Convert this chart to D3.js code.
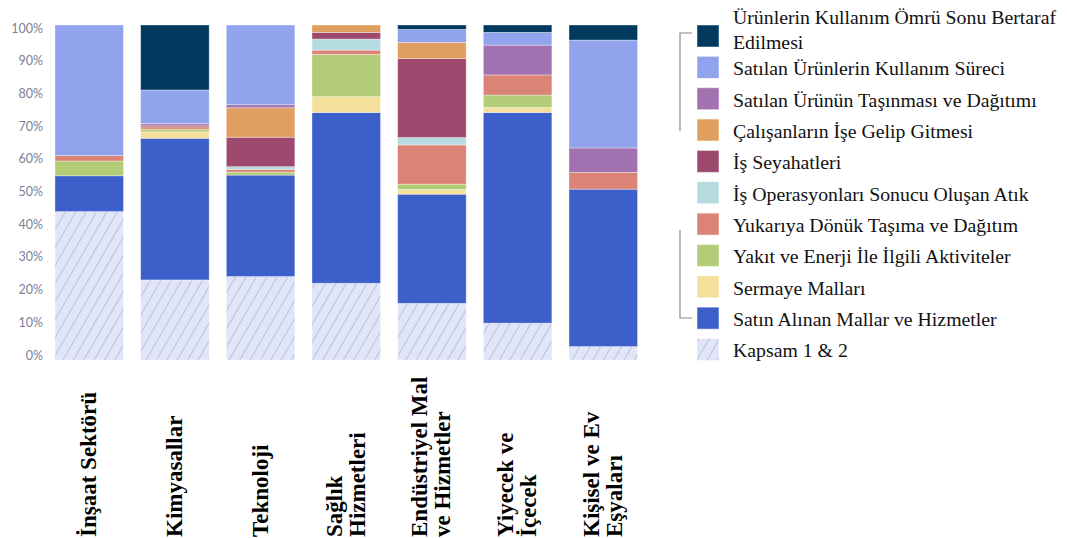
<!DOCTYPE html>
<html><head><meta charset="utf-8">
<script src="https://cdn.jsdelivr.net/npm/d3@7/dist/d3.min.js"></script>
<style>html,body{margin:0;padding:0;background:#fff;}svg{display:block;}</style>
</head><body>
<svg id="chart" width="1067" height="538"></svg>
<script>
// ---- data ----
const categories = ["İnşaat Sektörü","Kimyasallar","Teknoloji","Sağlık Hizmetleri","Endüstriyel Mal ve Hizmetler","Yiyecek ve İçecek","Kişisel ve Ev Eşyaları"];
const categoryLines = [["İnşaat Sektörü"],["Kimyasallar"],["Teknoloji"],["Sağlık","Hizmetleri"],["Endüstriyel Mal","ve Hizmetler"],["Yiyecek ve","İçecek"],["Kişisel ve Ev","Eşyaları"]];
// series listed bottom -> top of stack
const seriesNames = ["Kapsam 1 & 2","Satın Alınan Mallar ve Hizmetler","Sermaye Malları","Yakıt ve Enerji İle İlgili Aktiviteler","Yukarıya Dönük Taşıma ve Dağıtım","İş Operasyonları Sonucu Oluşan Atık","İş Seyahatleri","Çalışanların İşe Gelip Gitmesi","Satılan Ürünün Taşınması ve Dağıtımı","Satılan Ürünlerin Kullanım Süreci","Ürünlerin Kullanım Ömrü Sonu Bertaraf Edilmesi"];
const kapsam      = [44.3, 23.9, 24.9, 22.9, 16.9, 11.0, 4.0];
const satinAlinan = [10.7, 42.3, 30.3, 51.0, 32.6, 62.9, 47.0];
const sermaye     = [0, 1.9, 0, 4.7, 1.4, 1.5, 0];
const yakit       = [4.4, 0.8, 0.9, 12.6, 1.6, 3.7, 0];
const yukariya    = [1.6, 0.7, 0.8, 1.3, 11.7, 6.0, 5.0];
const atik        = [0, 0, 0.8, 3.3, 2.2, 0, 0];
const isSeyahat   = [0, 0.5, 8.8, 2.0, 23.6, 0, 0];
const calisanlar  = [0, 0, 8.8, 2.2, 4.8, 0, 0];
const tasinmasi   = [0, 0.5, 0.9, 0, 0, 8.9, 7.3];
const kullanim    = [39.0, 10.0, 23.8, 0, 3.9, 3.8, 32.2];
const omurSonu    = [0, 19.4, 0, 0, 1.3, 2.2, 4.5];
const seriesValues = [kapsam, satinAlinan, sermaye, yakit, yukariya, atik, isSeyahat, calisanlar, tasinmasi, kullanim, omurSonu];
const seriesColors = ["url(#hatch)","#3d5fc9","#f5e09b","#b2cc77","#db8374","#b4dbe0","#9e4a6f","#e09f5f","#a171b0","#90a3ec","#013a5e"];
const yTicks = [0,10,20,30,40,50,60,70,80,90,100];

// ---- scales ----
const svg = d3.select("#chart");
const defs = svg.append("defs");
const pat = defs.append("pattern").attr("id","hatch").attr("patternUnits","userSpaceOnUse")
  .attr("width",9).attr("height",9).attr("patternTransform","rotate(30)");
pat.append("rect").attr("width",9).attr("height",9).attr("fill","#e0e5f8");
pat.append("line").attr("x1",0).attr("y1",0).attr("x2",0).attr("y2",9).attr("stroke","#a2a7c2").attr("stroke-width",1.2);

const x = d3.scaleBand().domain(categories).range([46.4, 646.1]).paddingInner(0.2).paddingOuter(0.1);
const y = d3.scaleLinear().domain([0,100]).range([360, 25]);
const yLab = d3.scaleLinear().domain([0,100]).range([355, 28]);

// stack
const rows = categories.map((c,i)=>{const o={cat:c}; seriesNames.forEach((s,j)=>o[s]=seriesValues[j][i]); return o;});
const stacked = d3.stack().keys(seriesNames)(rows);

const g = svg.append("g");
stacked.forEach((layer, j) => {
  g.selectAll(null).data(layer.filter(d=>d[1]-d[0]>0)).enter().append("rect")
    .attr("x", d=>x(d.data.cat)).attr("width", x.bandwidth())
    .attr("y", d=>y(d[1])).attr("height", d=>y(d[0])-y(d[1]))
    .attr("fill", seriesColors[j])
    .attr("stroke","rgba(255,255,255,0.45)").attr("stroke-width",0.8);
});

// y axis labels
const ax = svg.append("g").attr("transform","translate(43,0)")
  .call(d3.axisLeft(yLab).tickValues(yTicks).tickFormat(d=>d+"%").tickSize(0).tickPadding(0));
ax.select(".domain").remove();
ax.selectAll("text").attr("font-family","Lato, 'Open Sans', sans-serif").attr("font-size",12.5).attr("fill","#7b7f96");

// x labels (rotated, bold serif)
const lineGap = 23;
categories.forEach((c,i)=>{
  const lines = categoryLines[i];
  const cx = x(c) + x.bandwidth()/2 - 1;
  lines.forEach((ln,k)=>{
    const off = (k - (lines.length-1)/2) * lineGap;
    svg.append("text")
      .attr("transform", `translate(${cx+off+8},537) rotate(-90)`)
      .attr("font-family","'Liberation Serif','Times New Roman',serif").attr("font-weight","bold")
      .attr("font-size",23).attr("fill","#000").attr("text-anchor","start")
      .text(ln);
  });
});

// legend (top -> bottom order)
const legendOrder = seriesNames.slice(1).reverse().concat([seriesNames[0]]);
const legendColors = seriesColors.slice(1).reverse().concat([seriesColors[0]]);
const lg = svg.append("g");
legendOrder.forEach((name,i)=>{
  const cy = 36 + i*31.35;
  lg.append("rect").attr("x",697).attr("y",cy-11).attr("width",22).attr("height",22)
    .attr("fill",legendColors[i]).attr("stroke","rgba(255,255,255,0.5)").attr("stroke-width",1);
  const t = lg.append("text").attr("x",733)
    .attr("font-family","'Liberation Serif','Times New Roman',serif").attr("font-size",19.8).attr("fill","#111");
  if (i===0) {
    t.append("tspan").attr("x",733).attr("y",cy-19).attr("dy","0.35em").text("Ürünlerin Kullanım Ömrü Sonu Bertaraf");
    t.append("tspan").attr("x",733).attr("y",cy+6).attr("dy","0.35em").text("Edilmesi");
  } else {
    t.attr("y",cy+1).attr("dy","0.35em").text(name);
  }
});
// brackets
lg.append("path").attr("d","M692,33H680V131").attr("fill","none").attr("stroke","#8a8a8a").attr("stroke-width",1.2);
lg.append("path").attr("d","M680,230V318H692").attr("fill","none").attr("stroke","#8a8a8a").attr("stroke-width",1.2);
</script>
</body></html>
